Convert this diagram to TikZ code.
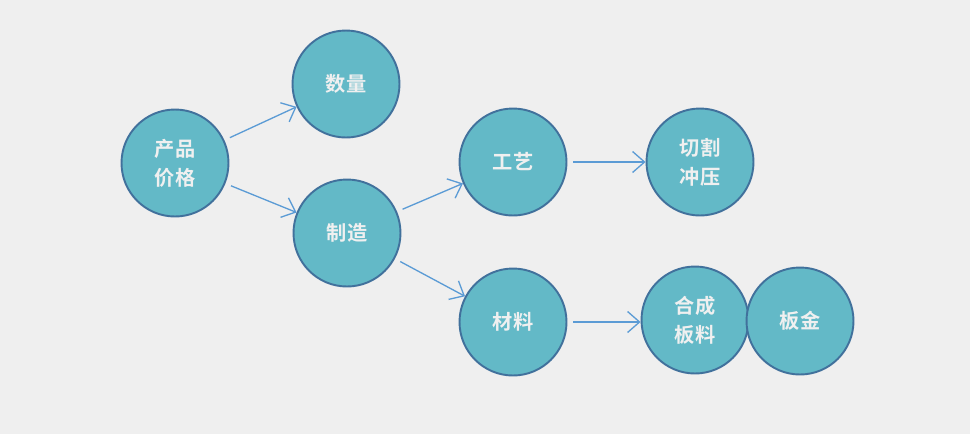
\documentclass[tikz,border=0pt]{standalone}
\usepackage{fontspec}
\usepackage{xcolor}
\usepackage{tikz}
\usetikzlibrary{arrows.meta}
\newfontfamily\cjk{Noto Sans CJK SC}[BoldFont={Noto Sans CJK SC Bold}]
\definecolor{bgray}{HTML}{EFEFEF}
\definecolor{topicfill}{HTML}{63B9C7}
\definecolor{topicline}{HTML}{41719C}
\definecolor{flowblue}{HTML}{5B9BD5}
\tikzset{
    topic/.style={circle, draw=topicline, line width=1.1pt, fill=topicfill,
        minimum size=2.14cm, inner sep=0pt, align=center, text=white!94!black,
        font=\cjk\bfseries\fontsize{11.5}{16.5}\selectfont},
    flow/.style={-{Straight Barb[length=2.4mm,width=4.2mm]}, line width=0.75pt,
        draw=flowblue, shorten <=1.2mm}
}
\begin{document}
\begin{tikzpicture}[x=0.02cm,y=-0.02cm]
        \fill[bgray] (0,0) rectangle (970,434);
        \useasboundingbox (0,0) rectangle (970,434);
        \node[topic] at (175,163) (price) {产品\\价格};
        \node[topic] at (346,84) (qty) {数量};
        \node[topic] at (347,233) (make) {制造};
        \node[topic] at (513,162) (craft) {工艺};
        \node[topic] at (700,162) (cut) {切割\\冲压};
        \node[topic] at (513,322) (matl) {材料};
        \node[topic] at (695,320) (board) {合成\\板料};
        \node[topic] at (800,321) (sheet) {板金};
        \draw[flow] (price) -- (qty);
        \draw[flow] (price) -- (make);
        \draw[flow] (make) -- (craft);
        \draw[flow] (make) -- (matl);
        \draw[flow] (craft) -- (cut);
        \draw[flow] (matl.east) -- (board.west |- matl.east);
    \end{tikzpicture}
\end{document}
